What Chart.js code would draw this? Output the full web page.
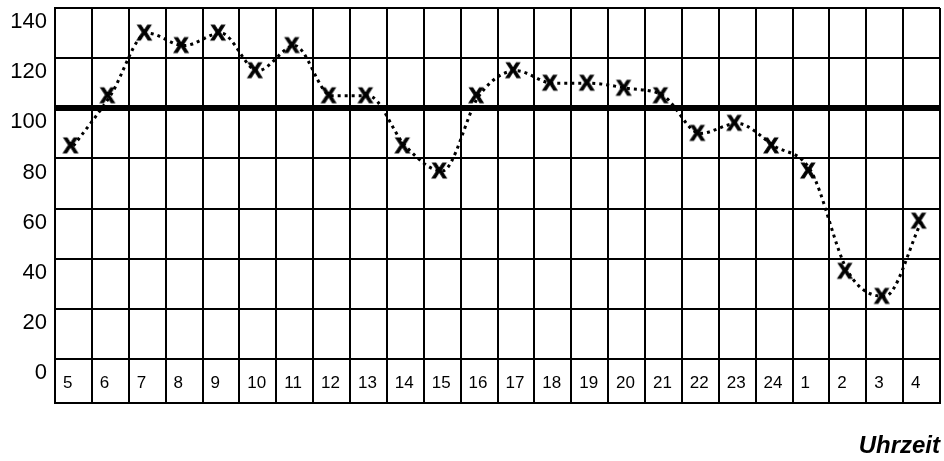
<!DOCTYPE html>
<html><head><meta charset="utf-8">
<script src="https://cdn.jsdelivr.net/npm/chart.js@4/dist/chart.umd.min.js"></script>
<style>html,body{margin:0;padding:0;background:#fff;}canvas{display:block;}</style>
</head><body>
<canvas id="c" width="944" height="461"></canvas>
<script>
const hours = ['5','6','7','8','9','10','11','12','13','14','15','16','17','18','19','20','21','22','23','24','1','2','3','4'];
const values = [85,105,130,125,130,115,125,105,105,85,75,105,115,110,110,108,105,90,94,85,75,35,25,55];
const yTicks = [0,20,40,60,80,100,120,140];
const refLine = 100;
const axisTitle = 'Uhrzeit';

const mark = document.createElement('canvas');
mark.width = 30; mark.height = 30;
(function(){
  const g = mark.getContext('2d');
  g.fillStyle = '#000';
  g.strokeStyle = '#000';
  g.lineWidth = 1;
  g.font = 'bold 22px "Liberation Sans", Arial, sans-serif';
  g.textAlign = 'center';
  g.textBaseline = 'middle';
  g.fillText('X', 12, 16);
  g.strokeText('X', 12, 16);
})();

new Chart(document.getElementById('c'), {
  type: 'line',
  data: {
    labels: hours,
    datasets: [{
      data: values,
      borderColor: '#000',
      borderWidth: 3,
      borderDash: [3, 4],
      borderCapStyle: 'butt',
      cubicInterpolationMode: 'monotone',
      pointStyle: mark,
      pointRadius: 1,
      pointBorderWidth: 0,
      fill: false
    }]
  },
  options: {
    responsive: false,
    animation: false,
    layout: { padding: { top: 8, right: 2, left: 0, bottom: 0 } },
    plugins: { legend: { display: false }, tooltip: { enabled: false } },
    scales: {
      x: {
        offset: true,
        grid: { offset: true, color: '#000', lineWidth: 2, drawTicks: false },
        border: { display: true, color: '#000', width: 2 },
        ticks: {
          autoSkip: false, maxRotation: 0, minRotation: 0,
          align: 'start', labelOffset: -10.5, padding: -30,
          color: '#000',
          font: { family: '"Liberation Sans", Arial, sans-serif', size: 17 }
        },
        title: {
          display: true, text: axisTitle, align: 'end', color: '#000',
          padding: { top: 0, bottom: 0 },
          font: { family: '"Liberation Sans", Arial, sans-serif', size: 24, weight: 'bold', style: 'italic' }
        },
        afterFit: s => {
          s.height = 58; s.paddingLeft = 0; s.paddingRight = 0;
          s._computeLabelArea = () => undefined;
        }
      },
      y: {
        min: -17.5, max: 140,
        afterBuildTicks: s => { s.ticks = yTicks.map(v => ({ value: v })); },
        grid: {
          color: '#000', drawTicks: false,
          lineWidth: c => (c.tick && c.tick.value === refLine) ? 6 : 2
        },
        border: { display: true, color: '#000', width: 2 },
        ticks: {
          padding: 8, labelOffset: 14, color: '#000',
          font: { family: '"Liberation Sans", Arial, sans-serif', size: 22 }
        },
        afterFit: s => { s.width = 55; s.paddingTop = 0; s.paddingBottom = 0; }
      }
    }
  }
});
</script>
</body></html>
